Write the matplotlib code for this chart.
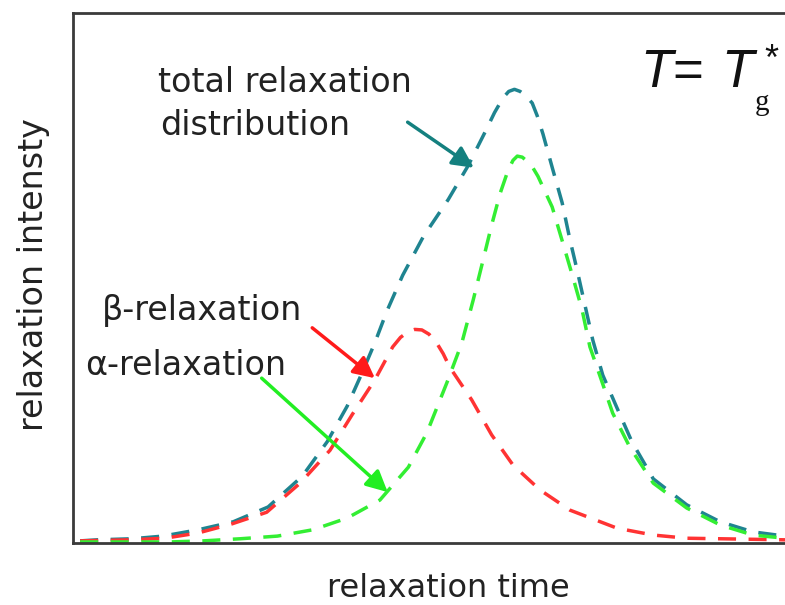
import matplotlib
matplotlib.use('Agg')
import matplotlib.pyplot as plt

plt.rcParams['font.family'] = ['DejaVu Sans']
plt.rcParams['lines.scale_dashes'] = False

# relaxation time (arbitrary log units, 0..10 across the frame)
x_beta = [0.10, 0.80, 1.29, 1.76, 2.23, 2.72, 3.19, 3.61, 3.92, 4.24, 4.49, 4.60, 4.71, 4.80, 4.90,
          5.00, 5.11, 5.20, 5.29, 5.60, 5.88, 6.18, 6.56, 6.98, 7.64, 8.15, 8.62, 9.09, 10.0]
beta = [0.004, 0.006, 0.009, 0.019, 0.036, 0.058, 0.113, 0.175, 0.242, 0.308, 0.370, 0.388, 0.399, 0.403, 0.402,
        0.394, 0.377, 0.357, 0.332, 0.270, 0.204, 0.147, 0.100, 0.062, 0.028, 0.015, 0.009, 0.008, 0.006]

x_alpha = [0.10, 1.36, 1.83, 2.35, 2.87, 3.37, 3.85, 4.31, 4.71, 4.97, 5.25, 5.46, 5.62, 5.76,
           5.88, 6.00, 6.11, 6.18, 6.24, 6.31, 6.38, 6.45, 6.53, 6.73, 6.88, 7.02, 7.15, 7.26, 7.43, 7.58, 7.82,
           8.15, 8.62, 9.09, 9.55, 10.0]
alpha = [0.002, 0.002, 0.004, 0.008, 0.013, 0.025, 0.047, 0.081, 0.143, 0.208, 0.302, 0.377, 0.458, 0.534,
         0.600, 0.660, 0.703, 0.722, 0.730, 0.728, 0.720, 0.710, 0.692, 0.634, 0.566, 0.502, 0.440, 0.370, 0.304,
         0.245, 0.181, 0.113, 0.066, 0.034, 0.015, 0.009]

x_total = [0.10, 0.34, 0.83, 1.26, 1.76, 2.25, 2.74, 3.22, 3.57, 3.85, 4.05, 4.24, 4.41, 4.63, 4.92,
           5.27, 5.55, 5.79, 5.92, 6.04, 6.12, 6.20, 6.28, 6.36, 6.45, 6.52, 6.60, 6.74, 6.87, 6.98, 7.08,
           7.19, 7.30, 7.44, 7.64, 7.85, 8.15, 8.62, 9.09, 9.55, 10.0]
total = [0.004, 0.006, 0.008, 0.013, 0.025, 0.040, 0.068, 0.126, 0.191, 0.258, 0.318, 0.378, 0.438, 0.505, 0.578,
         0.648, 0.712, 0.776, 0.812, 0.840, 0.852, 0.856, 0.852, 0.844, 0.830, 0.806, 0.772, 0.704, 0.642, 0.572,
         0.515, 0.449, 0.383, 0.317, 0.255, 0.191, 0.121, 0.072, 0.040, 0.021, 0.013]

teal = '#1f8490'
red = '#ff3333'
green = '#33ee33'

W, H = 785, 605
fig = plt.figure(figsize=(W / 100, H / 100), dpi=100)
ax = fig.add_axes([73 / W, (H - 543) / H, 712 / W, 530 / H])

dash = (13, 9)
ax.plot(x_total, total, color=teal, lw=2.5, dashes=dash)
ax.plot(x_beta, beta, color=red, lw=2.5, dashes=dash)
ax.plot(x_alpha, alpha, color=green, lw=2.5, dashes=dash)

ax.set_xlim(0, 10)
ax.set_ylim(0, 1)
ax.set_xticks([])
ax.set_yticks([])
for s in ['left', 'top', 'bottom']:
    ax.spines[s].set_color('#3a3a3a')
    ax.spines[s].set_linewidth(2)
ax.spines['right'].set_visible(False)

# annotations
txt = dict(fontsize=24, color='#222222', va='baseline', ha='left')
ax.text(1.19, 0.851, 'total relaxation', **txt)
ax.text(1.22, 0.770, 'distribution', **txt)
ax.text(0.41, 0.421, 'β‐relaxation', **txt)
ax.text(0.17, 0.317, 'α‐relaxation', **txt)

arrow = dict(arrowstyle='-|>', lw=2.5, mutation_scale=32, shrinkA=0, shrinkB=0)
ax.annotate('', xy=(5.63, 0.708), xytext=(4.70, 0.794), arrowprops=dict(color='#14807f', **arrow))
ax.annotate('', xy=(4.24, 0.311), xytext=(3.36, 0.406), arrowprops=dict(color='#ff1a1a', **arrow))
ax.annotate('', xy=(4.42, 0.096), xytext=(2.65, 0.311), arrowprops=dict(color='#22ee22', **arrow))

# T = T_g*
fig.text(640 / W, 1 - 87 / H, 'T', fontsize=38, style='italic', family='Liberation Sans', color='#111111')
fig.text(672 / W, 1 - 87 / H, '=', fontsize=38, family='Liberation Sans', color='#111111')
fig.text(721 / W, 1 - 87 / H, 'T', fontsize=38, style='italic', family='Liberation Sans', color='#111111')
fig.text(755 / W, 1 - 110 / H, 'g', fontsize=21, family='Liberation Serif', color='#111111')
fig.text(764 / W, 1 - 70 / H, '*', fontsize=26, family='Liberation Sans', color='#111111')

fig.text(448 / W, 1 - 597 / H, 'relaxation time', fontsize=23, color='#222222', ha='center', va='baseline')
fig.text(43 / W, 1 - 275 / H, 'relaxation intensty', fontsize=24, color='#222222', rotation=90,
         ha='center', va='baseline', rotation_mode='anchor')

fig.savefig('out.png', dpi=100)
